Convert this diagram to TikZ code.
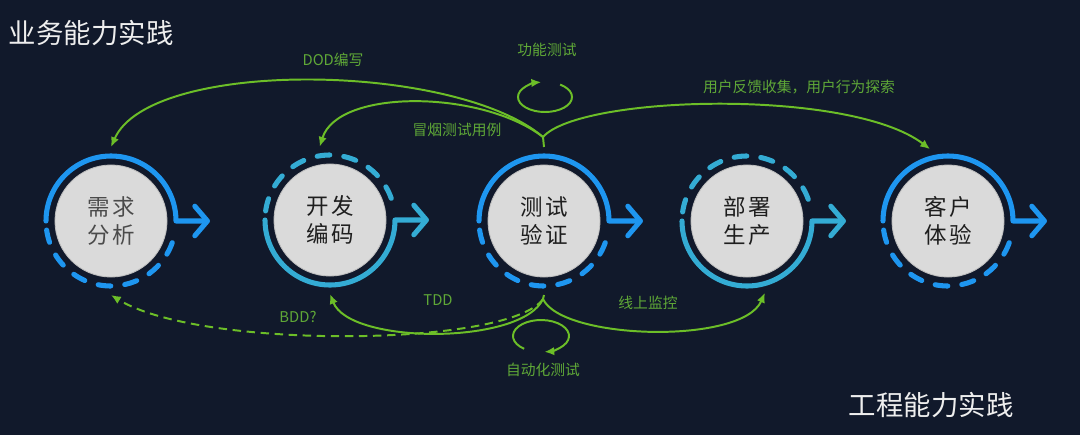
\documentclass[tikz,border=0pt]{standalone}
\usepackage{fontspec}
\setmainfont{Noto Sans CJK SC}
\newfontfamily\cjkspaced{Noto Sans CJK SC}[LetterSpace=12]
\usetikzlibrary{arrows.meta, calc, positioning}
\definecolor{bgnavy}{RGB}{17, 25, 43}
\definecolor{ringblue}{RGB}{30, 150, 240}
\definecolor{ringcyan}{RGB}{52, 172, 212}
\definecolor{diskgray}{RGB}{218, 218, 218}
\definecolor{diskedge}{RGB}{190, 190, 190}
\definecolor{stagetext}{RGB}{30, 30, 30}
\definecolor{stagelight}{RGB}{75, 75, 75}
\definecolor{flowgreen}{RGB}{108, 190, 40}
\definecolor{notegreen}{RGB}{95, 168, 55}
\definecolor{headwhite}{RGB}{238, 238, 238}

\tikzset{
  stage/.style={circle, fill=diskgray, draw=diskedge, line width=0.6pt, minimum size=2.8cm, inner sep=0pt,
    outer sep=0.45cm, align=center, text=stagetext, font=\cjkspaced\fontsize{16}{20}\selectfont},
  solidring/.style={line width=3.6pt, line cap=round, line join=round,
    -{Straight Barb[length=9pt, width=21pt, round]}},
  dashring/.style={line width=3.6pt, line cap=round, dash pattern=on 9pt off 10pt},
  flowline/.style={draw=flowgreen, line width=1.4pt},
  flow/.style={flowline, -{Latex[length=7pt, width=6pt]}},
  note/.style={text=notegreen, font=\fontsize{10.5}{12}\selectfont},
  heading/.style={text=headwhite, anchor=west, font=\fontsize{19.5}{23}\selectfont}
}

\begin{document}
\begin{tikzpicture}[x=0.025cm, y=-0.025cm]
  % background
  \fill[bgnavy] (0,0) rectangle (1080,435);
  \useasboundingbox (0,0) rectangle (1080,435);

  % headings
  \node[heading] (bizhead) at (4,33) {业务能力实践};
  \node[heading] (enghead) at (844,405) {工程能力实践};

  % stages
  \node[stage, text=stagelight] (req) at (111,221) {需求\\分析};
  \node[stage] (dev) at (330,220) {开发\\编码};
  \node[stage] (test) at (544,221) {测试\\验证};
  \node[stage] (deploy) at (747,221) {部署\\生产};
  \node[stage] (cx) at (948,221) {客户\\体验};

  % rings: solid top, dashed bottom
  \foreach \s in {req, test, cx} {
    \draw[solidring, draw=ringblue] ($(\s)+(-65,0)$) arc[start angle=180, end angle=360, radius=65] -- ++(34,0);
    \draw[dashring, draw=ringblue] ($(\s)+(172:65)$) arc[start angle=172, end angle=8, radius=65];
  }
  % rings: dashed top, solid bottom
  \foreach \s in {dev, deploy} {
    \draw[solidring, draw=ringcyan] ($(\s)+(-65,0)$) arc[start angle=180, end angle=0, radius=65] -- ++(34,0);
    \draw[dashring, draw=ringcyan] ($(\s)+(188:65)$) arc[start angle=188, end angle=352, radius=65];
  }

  % forks at the test stage
  \coordinate (topfork) at (543,137);
  \coordinate (botfork) at (543,299);
  \draw[flowline] (test.north) -- (topfork);
  \draw[flowline] (test.south) -- (botfork);

  % upper flows
  \draw[flow] (topfork) .. controls (455,62) and (150,58) .. (req.north);
  \draw[flow] (topfork) .. controls (482,90) and (338,88) .. (dev.98);
  \draw[flow] (topfork) .. controls (580,95) and (850,88) .. (cx.104);

  % lower flows
  \draw[flow] (botfork) .. controls (522,345) and (350,345) .. (dev.south);
  \draw[flow, dash pattern=on 6pt off 4pt] (botfork) .. controls (510,347) and (200,350) .. (req.south);
  \draw[flow] (botfork) .. controls (562,340) and (742,345) .. (deploy.-76);

  % loops
  \coordinate (funcloop) at (545,97);
  \coordinate (autoloop) at (541,336);
  \draw[flow] ($(funcloop)+(304:27 and 15)$) arc[start angle=304, end angle=622, x radius=27, y radius=15];
  \draw[flow] ($(autoloop)+(127:28 and 16)$) arc[start angle=127, end angle=443, x radius=28, y radius=16];

  % labels
  \node[note] (dodlbl) at (333,60) {DOD编写};
  \node[note] (smokelbl) at (457,130) {冒烟测试用例};
  \node[note] (funclbl) at (547,50) {功能测试};
  \node[note] (fblbl) at (799,87) {用户反馈收集，用户行为探索};
  \node[note] (tddlbl) at (438,300) {TDD};
  \node[note] (bddlbl) at (298,317) {BDD?};
  \node[note] (monlbl) at (648,303) {线上监控};
  \node[note] (autolbl) at (543,370) {自动化测试};
\end{tikzpicture}
\end{document}
